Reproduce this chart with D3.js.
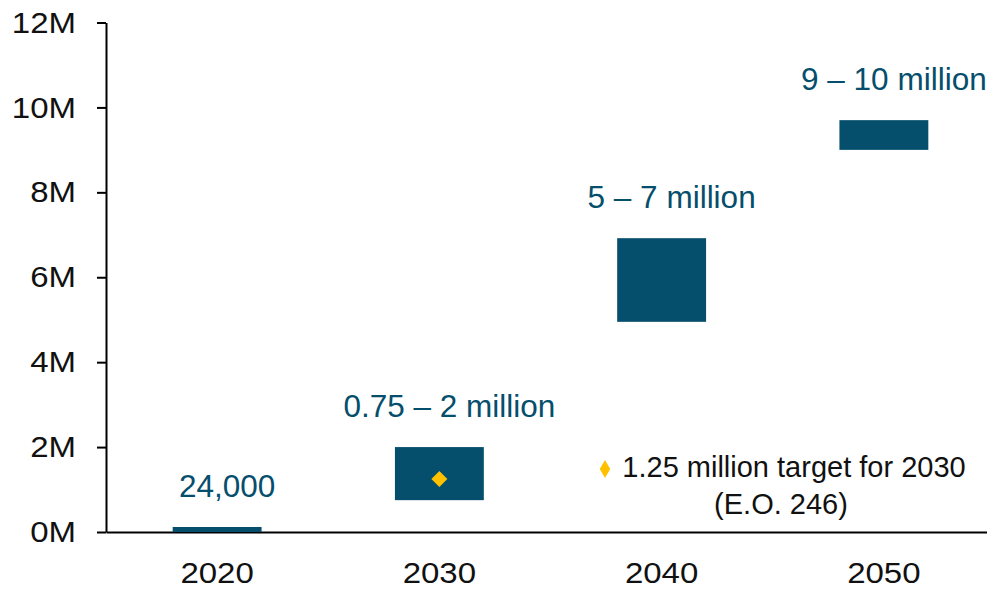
<!DOCTYPE html>
<html>
<head>
<meta charset="utf-8">
<script src="https://cdn.jsdelivr.net/npm/d3@7"></script>
<style>
  html, body { margin: 0; padding: 0; background: #fff; }
  svg { display: block; font-family: "Liberation Sans", Arial, sans-serif; }
  .y-axis .domain, .y-axis line, .x-axis .domain { stroke: #000; stroke-width: 2px; }
  .y-axis text, .x-axis text { fill: #111; font-size: 30px; }
</style>
</head>
<body>
<svg id="chart"></svg>
<script>
// data
const years = ['2020', '2030', '2040', '2050'];
const lows = [0, 0.75e6, 4.95e6, 9.0e6];
const highs = [0.024e6, 2.0e6, 6.92e6, 9.7e6];
const rangeLabels = ['24,000', '0.75 \u2013 2 million', '5 \u2013 7 million', '9 \u2013 10 million'];
const yTicks = [0, 2e6, 4e6, 6e6, 8e6, 10e6, 12e6];
const targetYear = '2030';
const targetValue = 1.25e6;
const legendLines = ['1.25 million target for 2030', '(E.O. 246)'];

// svg config
const width = 987;
const height = 589;
const barColor = '#054e6c';
const targetColor = '#ffc000';
const minBarHeight = 5;
const axisTextStretch = 1.1; // axis labels are a bit wider than plain Arial

const svg = d3.select('#chart').attr('width', width).attr('height', height);

const xScale = d3.scaleBand()
  .domain(years)
  .range([106, 995])
  .paddingInner(0.6)
  .paddingOuter(0.3);

const yScale = d3.scaleLinear()
  .domain([0, 12e6])
  .range([532, 22.5]);

// axes
const yAxis = d3.axisLeft(yScale)
  .tickValues(yTicks)
  .tickFormat(d => (d / 1e6) + 'M')
  .tickSize(9)
  .tickSizeOuter(0)
  .tickPadding(21);

const xAxis = d3.axisBottom(xScale)
  .tickSize(0)
  .tickPadding(30);

const xAxisNode = svg.append('g')
  .attr('class', 'x-axis')
  .attr('transform', `translate(0,${yScale(0)})`)
  .call(xAxis);

const yAxisNode = svg.append('g')
  .attr('class', 'y-axis')
  .attr('transform', 'translate(106,0)')
  .call(yAxis);

// stretch axis labels horizontally
yAxisNode.selectAll('.tick text')
  .attr('x', -30 / axisTextStretch)
  .attr('transform', `scale(${axisTextStretch},1)`);
xAxisNode.selectAll('.tick text')
  .attr('transform', `scale(${axisTextStretch},1)`);

const rows = years.map((y, i) => ({ year: y, low: lows[i], high: highs[i], label: rangeLabels[i] }));

// floating range bars
svg.selectAll('.bar')
  .data(rows)
  .enter()
  .append('rect')
  .attr('class', 'bar')
  .attr('x', d => xScale(d.year))
  .attr('width', xScale.bandwidth())
  .attr('y', d => Math.min(yScale(d.high), yScale(d.low) - minBarHeight))
  .attr('height', d => Math.max(yScale(d.low) - yScale(d.high), minBarHeight))
  .attr('fill', barColor);

svg.selectAll('.range-label')
  .data(rows)
  .enter()
  .append('text')
  .attr('class', 'range-label')
  .attr('x', d => xScale(d.year) + xScale.bandwidth() / 2 + 10)
  .attr('y', d => Math.min(yScale(d.high), yScale(d.low) - minBarHeight) - 30)
  .attr('text-anchor', 'middle')
  .attr('fill', barColor)
  .style('font-size', '31.5px')
  .text(d => d.label);

// 2030 target marker
svg.append('path')
  .attr('d', d3.symbol(d3.symbolSquare, 128)())
  .attr('transform', `translate(${xScale(targetYear) + xScale.bandwidth() / 2},${yScale(targetValue)}) rotate(45)`)
  .attr('fill', targetColor);

// legend note
const legend = svg.append('g').attr('transform', 'translate(794,477)');
legend.append('path')
  .attr('d', d3.symbol(d3.symbolDiamond, 95)())
  .attr('transform', 'translate(-189,-8)')
  .attr('fill', targetColor);
legend.selectAll('text')
  .data(legendLines)
  .enter()
  .append('text')
  .attr('x', (d, i) => i === 0 ? 0 : -13)
  .attr('y', (d, i) => i * 37)
  .attr('text-anchor', 'middle')
  .attr('fill', '#111')
  .style('font-size', '29px')
  .text(d => d);
</script>
</body>
</html>
